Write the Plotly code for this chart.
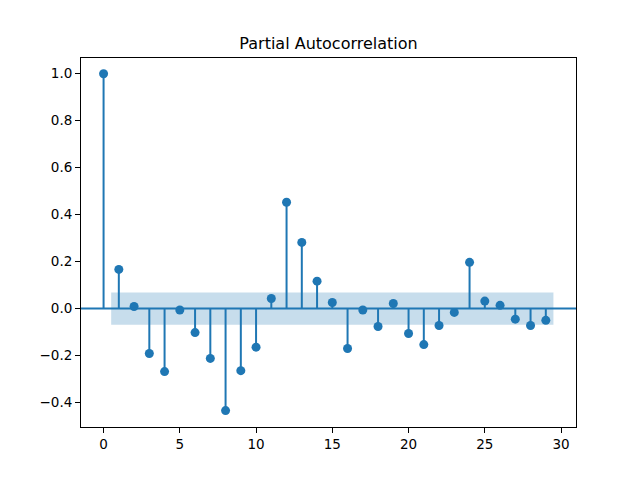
import plotly.graph_objects as go

lags = list(range(30))
pacf_vals = [1.0, 0.167, 0.009, -0.191, -0.268, -0.006, -0.102, -0.212, -0.434, -0.264,
             -0.164, 0.043, 0.453, 0.282, 0.117, 0.026, -0.170, -0.006, -0.076, 0.022,
             -0.106, -0.153, -0.072, -0.016, 0.197, 0.032, 0.014, -0.045, -0.072, -0.050]
conf = 0.069
band_x = [0.5, 29.5]

BLUE = "#1f77b4"

fig = go.Figure()

# confidence band
fig.add_trace(go.Scatter(
    x=[band_x[0], band_x[1], band_x[1], band_x[0], band_x[0]],
    y=[conf, conf, -conf, -conf, conf],
    fill="toself", fillcolor="rgba(31,119,180,0.25)",
    line=dict(width=0), mode="lines", hoverinfo="skip", showlegend=False))

# zero line
fig.add_shape(type="line", xref="paper", x0=0, x1=1, yref="y", y0=0, y1=0,
              line=dict(color=BLUE, width=2))

# stems
sx, sy = [], []
for l, v in zip(lags, pacf_vals):
    sx += [l, l, None]
    sy += [0, v, None]
fig.add_trace(go.Scatter(x=sx, y=sy, mode="lines", line=dict(color=BLUE, width=2),
                         showlegend=False, hoverinfo="skip"))

# markers
fig.add_trace(go.Scatter(x=lags, y=pacf_vals, mode="markers",
                         marker=dict(color=BLUE, size=9), showlegend=False))

axis_common = dict(showline=True, linecolor="black", linewidth=1, mirror=True,
                   ticks="outside", ticklen=5, tickwidth=1, tickcolor="black",
                   showgrid=False, zeroline=False, automargin=False,
                   tickfont=dict(family="DejaVu Sans", size=13.5, color="black"))

fig.update_layout(
    width=640, height=480,
    margin=dict(l=81, r=64, t=58, b=53, autoexpand=False),
    paper_bgcolor="white", plot_bgcolor="white",
    title=dict(text="Partial Autocorrelation", x=0.5, xanchor="center",
               xref="paper", y=1 - 43 / 480, yanchor="middle", automargin=False,
               font=dict(family="DejaVu Sans", size=16, color="black")),
    xaxis=dict(range=[-1.48, 30.98], tickmode="array", tickvals=[0, 5, 10, 15, 20, 25, 30],
               **axis_common),
    yaxis=dict(range=[-0.504, 1.067], tickmode="array",
               tickvals=[-0.4, -0.2, 0.0, 0.2, 0.4, 0.6, 0.8, 1.0], tickformat=".1f",
               **axis_common),
    showlegend=False,
)

fig.write_html("out.html", config={"displayModeBar": False},
               post_script="document.body.style.margin='0';")
